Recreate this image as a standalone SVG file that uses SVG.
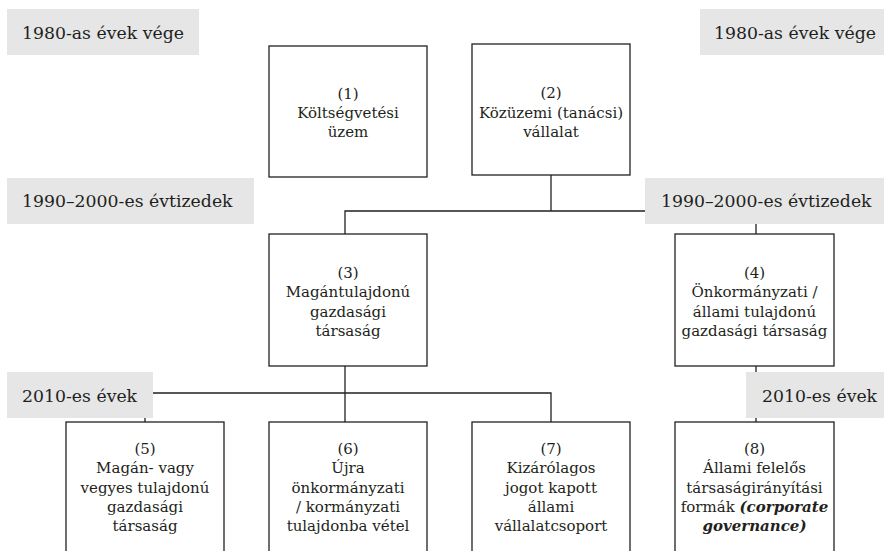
<svg xmlns="http://www.w3.org/2000/svg" width="884" height="551" viewBox="0 0 884 551">
<style>
.lbl{fill:#e6e6e7}
.lt{font-family:"DejaVu Serif",serif;font-size:17.3px;fill:#231f20}
.box{fill:#fff;stroke:#231f20;stroke-width:1.3}
.bt{font-family:"DejaVu Serif",serif;font-size:15px;fill:#231f20;text-anchor:middle}
.bi{font-weight:bold;font-style:italic}
.con{fill:none;stroke:#231f20;stroke-width:1.3}
</style>
<rect x="0" y="0" width="884" height="551" fill="#fff"/>
<g id="connectors">
<path class="con" d="M551,175V211"/>
<path class="con" d="M345,234V211H756V234"/>
<path class="con" d="M345,366V422"/>
<path class="con" d="M145,422V393H551V422"/>
<path class="con" d="M756,366V422"/>
</g>
<g id="label-1980-left"><rect class="lbl" x="7" y="9" width="192" height="46"/><text class="lt" x="22" y="39">1980-as évek vége</text></g>
<g id="label-1980-right"><rect class="lbl" x="700" y="9" width="184" height="46"/><text class="lt" x="714" y="39">1980-as évek vége</text></g>
<g id="label-1990-left"><rect class="lbl" x="7" y="178" width="247" height="46"/><text class="lt" x="22" y="207">1990–2000-es évtizedek</text></g>
<g id="label-1990-right"><rect class="lbl" x="645" y="178" width="239" height="46"/><text class="lt" x="661" y="207">1990–2000-es évtizedek</text></g>
<g id="label-2010-left"><rect class="lbl" x="7" y="372" width="146" height="46"/><text class="lt" x="22" y="402">2010-es évek</text></g>
<g id="label-2010-right"><rect class="lbl" x="746" y="372" width="138" height="46"/><text class="lt" x="762" y="402">2010-es évek</text></g>
<g id="node1"><rect class="box" x="269" y="46" width="158" height="131"/>
<text class="bt" x="348" y="99">(1)</text><text class="bt" x="348" y="118">Költségvetési</text><text class="bt" x="348" y="137">üzem</text></g>
<g id="node2"><rect class="box" x="472" y="44" width="158" height="131"/>
<text class="bt" x="551" y="98">(2)</text><text class="bt" x="551" y="118">Közüzemi (tanácsi)</text><text class="bt" x="551" y="137">vállalat</text></g>
<g id="node3"><rect class="box" x="269" y="234" width="158" height="132"/>
<text class="bt" x="348" y="278">(3)</text><text class="bt" x="348" y="297">Magántulajdonú</text><text class="bt" x="348" y="317">gazdasági</text><text class="bt" x="348" y="336">társaság</text></g>
<g id="node4"><rect class="box" x="675" y="234" width="159" height="132"/>
<text class="bt" x="754.5" y="278">(4)</text><text class="bt" x="754.5" y="297">Önkormányzati /</text><text class="bt" x="754.5" y="317">állami tulajdonú</text><text class="bt" x="754.5" y="336">gazdasági társaság</text></g>
<g id="node5"><rect class="box" x="66" y="422" width="158" height="140"/>
<text class="bt" x="145" y="454">(5)</text><text class="bt" x="145" y="473">Magán- vagy</text><text class="bt" x="145" y="493">vegyes tulajdonú</text><text class="bt" x="145" y="512">gazdasági</text><text class="bt" x="145" y="531">társaság</text></g>
<g id="node6"><rect class="box" x="269" y="422" width="158" height="140"/>
<text class="bt" x="348" y="454">(6)</text><text class="bt" x="348" y="473">Újra</text><text class="bt" x="348" y="493">önkormányzati</text><text class="bt" x="348" y="512">/ kormányzati</text><text class="bt" x="348" y="531">tulajdonba vétel</text></g>
<g id="node7"><rect class="box" x="472" y="422" width="158" height="140"/>
<text class="bt" x="551" y="454">(7)</text><text class="bt" x="551" y="473">Kizárólagos</text><text class="bt" x="551" y="493">jogot kapott</text><text class="bt" x="551" y="512">állami</text><text class="bt" x="551" y="531">vállalatcsoport</text></g>
<g id="node8"><rect class="box" x="675" y="422" width="159" height="140"/>
<text class="bt" x="754.5" y="454">(8)</text><text class="bt" x="754.5" y="473">Állami felelős</text><text class="bt" x="754.5" y="493">társaságirányítási</text><text class="bt" x="754.5" y="512">formák <tspan class="bi">(corporate</tspan></text><text class="bt bi" x="754.5" y="531">governance)</text></g>
</svg>
